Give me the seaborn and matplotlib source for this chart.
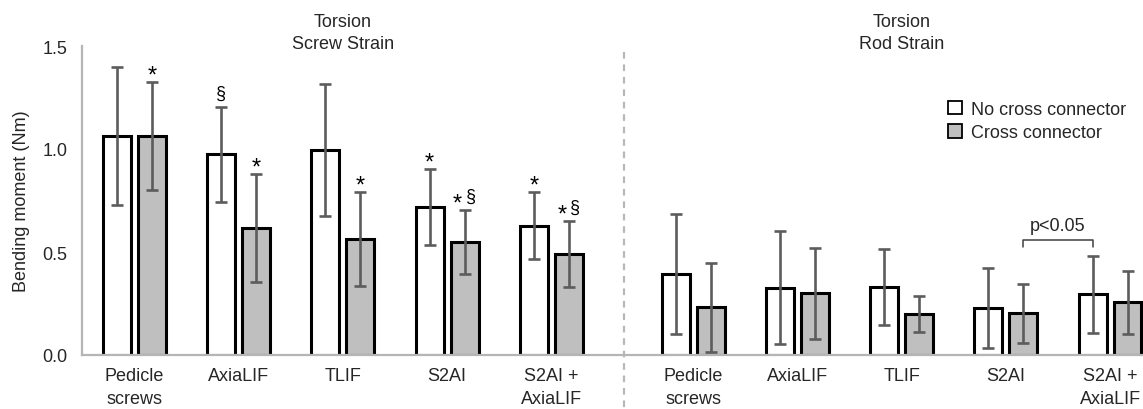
import numpy as np
import pandas as pd
import matplotlib
matplotlib.use("Agg")
import matplotlib.pyplot as plt
import seaborn as sns

# ---------------- data ----------------
categories = ["Pedicle\nscrews", "AxiaLIF", "TLIF", "S2AI", "S2AI +\nAxiaLIF"]
panels = ["Torsion\nScrew Strain", "Torsion\nRod Strain"]
series = ["No cross connector", "Cross connector"]

screw_no_mean = [1.063, 0.974, 0.995, 0.717, 0.628]
screw_no_sd = [0.335, 0.232, 0.322, 0.185, 0.164]
screw_cc_mean = [1.063, 0.615, 0.563, 0.550, 0.490]
screw_cc_sd = [0.260, 0.262, 0.229, 0.155, 0.160]

rod_no_mean = [0.393, 0.327, 0.329, 0.228, 0.295]
rod_no_sd = [0.290, 0.275, 0.185, 0.196, 0.187]
rod_cc_mean = [0.231, 0.299, 0.199, 0.202, 0.256]
rod_cc_sd = [0.218, 0.221, 0.089, 0.145, 0.152]

screw_no_marks = ["", "§", "", "*", "*"]
screw_cc_marks = ["*", "*", "*", "*§", "*§"]
rod_no_marks = ["", "", "", "", ""]
rod_cc_marks = ["", "", "", "", ""]

p_label = "p<0.05"
yticks = [0.0, 0.5, 1.0, 1.5]
ytick_labels = ["0.0", "0.5", "1.0", "1.5"]
ylabel = "Bending moment (Nm)"

# ---------------- style ----------------
sns.set_theme(style="white")
plt.rcParams["font.family"] = ["Liberation Sans", "DejaVu Sans"]

FS = 13
panel_gap = 0.36
n_cat = len(categories)

# group positions (layout)
positions = []
for p in range(len(panels)):
    for i in range(n_cat):
        positions.append(p * (n_cat + panel_gap) + i)

means = {series[0]: screw_no_mean + rod_no_mean, series[1]: screw_cc_mean + rod_cc_mean}
sds = {series[0]: screw_no_sd + rod_no_sd, series[1]: screw_cc_sd + rod_cc_sd}
marks = {series[0]: screw_no_marks + rod_no_marks, series[1]: screw_cc_marks + rod_cc_marks}

rows = []
for s in series:
    for k, pos in enumerate(positions):
        rows.append({"pos": pos, "value": means[s][k], "series": s})
df = pd.DataFrame(rows)

fig = plt.figure(figsize=(11.43, 4.10), dpi=100)
ax = fig.add_axes([82 / 1143, 1 - 356 / 410, 1 - 82 / 1143, (356 - 47) / 410])

palette = {series[0]: "white", series[1]: "#bfbfbf"}
sns.barplot(data=df, x="pos", y="value", hue="series", hue_order=series,
            palette=palette, native_scale=True, orient="x", width=0.67, gap=0.2,
            edgecolor="black", linewidth=2.2, saturation=1, errorbar=None,
            ax=ax)

# bar centres from the drawn patches
bars = [b for b in ax.patches if b.get_height() > 0 and b.get_width() > 0]
bars = sorted(bars, key=lambda b: b.get_x())
centers = {series[0]: [], series[1]: []}
for k in range(len(positions)):
    centers[series[0]].append(bars[2 * k].get_x() + bars[2 * k].get_width() / 2)
    centers[series[1]].append(bars[2 * k + 1].get_x() + bars[2 * k + 1].get_width() / 2)

err_color = "#5c5c5c"


def put_mark(ch, x, y, dx):
    if ch == "*":
        ax.annotate("*", xy=(x, y), xytext=(dx, 0.5), textcoords="offset points",
                    ha="center", va="baseline", fontsize=17, color="black")
    else:
        ax.annotate(ch, xy=(x, y), xytext=(dx, 6.5), textcoords="offset points",
                    ha="center", va="baseline", fontsize=13, color="black")


for s in series:
    ax.errorbar(centers[s], means[s], yerr=sds[s], fmt="none", ecolor=err_color,
                elinewidth=1.9, capsize=4.5, capthick=1.9, zorder=3)
    for x, m, sd, t in zip(centers[s], means[s], sds[s], marks[s]):
        if len(t) == 1:
            put_mark(t, x, m + sd, 0)
        elif len(t) == 2:
            put_mark(t[0], x, m + sd, -5.0)
            put_mark(t[1], x, m + sd, 4.5)

# p<0.05 bracket (rod panel: S2AI cross connector vs S2AI+AxiaLIF no connector)
xa = centers[series[1]][n_cat + 3]
xb = centers[series[0]][n_cat + 4]
ax.plot([xa, xa, xb, xb], [0.524, 0.558, 0.558, 0.524], color="#404040", lw=1.1)
ax.text((xa + xb) / 2, 0.585, p_label, ha="center", va="bottom", fontsize=FS)

# divider
xd = (positions[n_cat - 1] + positions[n_cat]) / 2 + 0.02
ax.plot([xd, xd], [1.471, -0.262], color="#b8b8b8", lw=1.6,
        ls=(0, (3, 2.6)), clip_on=False)

# panel titles
for p, title in enumerate(panels):
    ax.text(positions[p * n_cat + 2], 1.565, title, ha="center", va="center",
            fontsize=FS, linespacing=1.35, clip_on=False)

# axes styling
ax.set_xlim(positions[0] - 0.503, positions[-1] + 0.316)
ax.set_ylim(0, 1.5)
ax.set_xticks(positions)
ax.set_xticklabels(categories * len(panels), fontsize=FS, linespacing=1.45)
ax.set_yticks(yticks)
ax.set_yticklabels(ytick_labels, fontsize=FS)
ax.set_xlabel("")
ax.set_ylabel(ylabel, fontsize=FS, labelpad=9)
for sp in ["top", "right"]:
    ax.spines[sp].set_visible(False)
for sp in ["left", "bottom"]:
    ax.spines[sp].set_color("#b5b5b5")
    ax.spines[sp].set_linewidth(1.6)
ax.tick_params(axis="x", length=0, pad=9)
ax.tick_params(axis="y", length=4.5, width=1.3, color="#b5b5b5", pad=6, direction="out")
ax.grid(False)

# legend
handles, labels = ax.get_legend_handles_labels()
for h in handles:
    h.set_linewidth(1.3)
    h.set_edgecolor("black")
ax.legend(handles, labels, loc="upper left", bbox_to_anchor=(948 / 1143, 1 - 102 / 410),
          bbox_transform=fig.transFigure, frameon=False, fontsize=FS,
          handlelength=0.75, handleheight=0.75, handletextpad=0.55,
          labelspacing=0.35, borderpad=0, borderaxespad=0)

fig.savefig("out.png", dpi=100)
